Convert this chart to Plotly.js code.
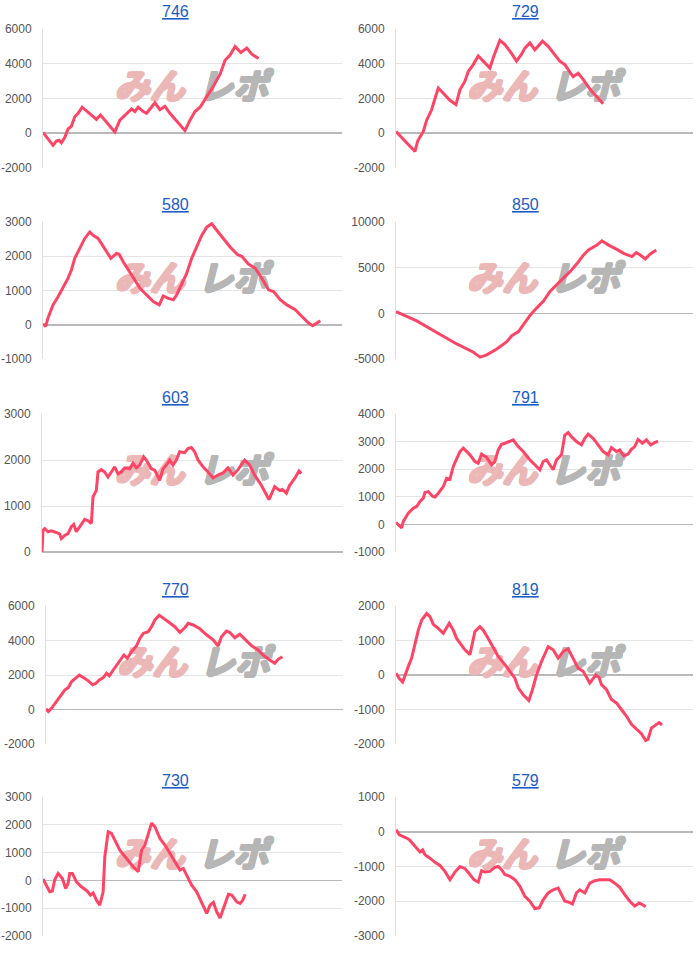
<!DOCTYPE html>
<html><head><meta charset="utf-8">
<script src="https://cdn.plot.ly/plotly-3.0.1.min.js"></script>
<style>html,body{margin:0;padding:0;background:#fff}#chart{width:700px;height:960px}</style>
</head><body><div id="chart"></div>
<script>
// Machine numbers (panel titles)
const titles = ['746','729','580','850','603','791','770','819','730','579'];

// Games played (x) and cumulative coin difference (y) per machine
const g746 = [0,150,300,400,480,550,650,750,850,950,1050,1170,1350,1600,1720,1900,2150,2300,2450,2650,2750,2850,3000,3100,3350,3500,3650,3800,4000,4250,4400,4550,4700,4900,5100,5300,5450,5600,5750,5920,6100,6250,6450];
const v746 = [50,-300,-700,-450,-400,-550,-250,250,400,950,1150,1500,1200,800,1050,650,80,750,1050,1400,1250,1500,1250,1150,1750,1350,1550,1150,700,150,750,1250,1500,2100,2700,3400,4200,4500,5000,4650,4900,4550,4300];

const g729 = [0,100,270,420,570,650,720,820,920,1070,1170,1270,1420,1620,1800,1920,2070,2170,2320,2470,2620,2820,2920,3020,3120,3270,3470,3620,3770,3870,4020,4170,4270,4400,4570,4770,4920,5070,5220,5320,5470,5620,5820,6020,6220];
const v729 = [100,-100,-400,-700,-1050,-450,-200,100,750,1350,2000,2600,2300,1900,1650,2500,3000,3550,3950,4450,4150,3750,4350,4900,5350,5100,4600,4150,4550,4900,5200,4800,5000,5300,5000,4550,4150,3950,3550,3250,3450,3100,2550,2100,1700];

const g580 = [0,80,150,300,450,600,750,850,950,1100,1250,1400,1500,1650,1800,1900,2030,2200,2280,2400,2550,2700,2900,3100,3300,3480,3600,3750,3900,4000,4150,4300,4450,4600,4750,4900,5050,5200,5400,5600,5820,5950,6150,6350,6550,6750,6900,7100,7300,7550,7750,7950,8070,8200,8300];
const v580 = [30,-50,200,580,820,1070,1360,1600,1940,2230,2520,2710,2610,2520,2290,2130,1940,2080,2060,1840,1600,1360,1070,870,680,580,840,770,730,870,1210,1500,1940,2270,2610,2850,2950,2760,2520,2270,2050,2000,1770,1650,1360,1020,970,730,580,440,240,50,-30,50,120];

const g850 = [0,620,1220,1820,2320,2520,2720,3020,3320,3470,3670,3820,4020,4220,4420,4620,4820,5020,5220,5420,5620,5770,6020,6170,6370,6620,6820,7070,7200,7320,7470,7620,7800];
const v850 = [200,-830,-2100,-3350,-4260,-4800,-4550,-3900,-3100,-2450,-2000,-1200,-200,600,1340,2420,3140,3860,4590,5420,6390,6930,7470,7940,7470,7000,6570,6210,6640,6390,5960,6500,6930];

const g603 = [0,30,80,180,280,380,480,530,580,680,780,880,950,1030,1130,1280,1380,1480,1530,1630,1680,1780,1880,1980,2080,2180,2280,2380,2480,2630,2730,2830,2930,3050,3130,3280,3380,3530,3630,3730,3830,3930,4030,4130,4280,4380,4480,4580,4680,4830,4980,5130,5280,5430,5580,5730,5880,6080,6230,6380,6580,6730,6810,6980,7130,7210,7330,7430,7580,7710,7780];
const v603 = [0,470,510,440,460,440,410,390,290,360,400,550,600,440,550,710,680,620,1200,1340,1740,1790,1740,1630,1740,1850,1700,1740,1830,1810,1930,1830,1890,2070,2000,1810,1780,1560,1810,1890,2000,1890,2000,2180,2160,2250,2270,2180,2000,1850,1740,1610,1670,1720,1830,1670,1790,2000,1890,1670,1450,1230,1140,1420,1340,1360,1280,1450,1600,1760,1710];

const g791 = [0,120,170,220,370,520,620,720,820,870,970,1100,1170,1270,1420,1520,1620,1720,1820,1920,2020,2120,2220,2370,2470,2570,2720,2870,2970,3070,3170,3270,3370,3520,3670,3820,4020,4170,4320,4420,4520,4620,4720,4820,4970,5070,5170,5270,5420,5570,5670,5770,5920,6070,6220,6370,6470,6620,6720,6840,6970,7070,7170,7270,7400,7520,7650,7770,7870];
const v791 = [70,-70,-130,110,410,590,650,830,950,1160,1190,1010,990,1130,1370,1670,1640,2100,2400,2640,2760,2640,2520,2280,2220,2550,2430,2160,2280,2700,2900,2940,3000,3060,2820,2640,2340,2160,1980,2280,2340,2160,1980,2340,2520,3240,3330,3180,3000,2880,3120,3270,3120,2880,2640,2520,2780,2640,2700,2480,2550,2720,2820,3080,2940,3060,2880,2960,3020];

const g770 = [0,70,170,270,420,570,670,770,870,1000,1120,1270,1400,1500,1600,1720,1820,1900,2020,2170,2340,2440,2570,2720,2820,2920,3070,3170,3270,3400,3520,3670,3870,4020,4170,4270,4420,4620,4820,5020,5170,5270,5420,5520,5670,5820,5970,6170,6370,6520,6720,6870,6970,7100];
const v770 = [40,-120,80,370,750,1140,1270,1620,1770,2000,1850,1660,1430,1520,1710,1850,2100,1950,2290,2680,3160,2970,3350,3700,4120,4410,4510,4800,5190,5470,5320,5090,4800,4470,4740,5000,4900,4680,4330,4040,3680,4220,4550,4470,4160,4360,4080,3700,3450,3160,2870,2680,2910,3060];

const g819 = [0,100,200,270,370,470,570,670,770,920,1020,1120,1270,1420,1600,1720,1820,1970,2070,2220,2370,2520,2620,2770,2920,3070,3270,3420,3570,3670,3820,3990,4100,4220,4370,4570,4720,4870,5020,5170,5320,5470,5620,5820,6000,6100,6170,6320,6470,6620,6770,6920,7070,7220,7370,7500,7570,7670,7800,7900,7990];
const v819 = [50,-100,-200,0,250,490,870,1300,1590,1780,1690,1470,1350,1210,1500,1300,1060,870,730,590,1260,1400,1300,1060,820,540,300,110,-90,-370,-570,-740,-420,0,390,820,730,490,680,760,490,200,110,-230,0,-70,-280,-420,-710,-810,-1000,-1190,-1430,-1570,-1700,-1900,-1860,-1540,-1460,-1380,-1450];

const g730 = [0,100,200,280,350,450,580,680,750,800,880,1000,1150,1320,1420,1500,1600,1700,1800,1850,1950,2050,2150,2300,2500,2700,2850,2950,3050,3150,3250,3350,3500,3650,3800,3950,4100,4200,4300,4450,4600,4750,4900,5000,5100,5200,5300,5400,5550,5650,5800,5900,5980,6050];
const v730 = [50,-170,-410,-380,10,250,70,-290,-110,250,250,-50,-230,-380,-530,-450,-710,-890,-410,850,1750,1690,1450,1090,790,490,310,1090,1270,1690,2060,1930,1510,1270,970,670,370,430,190,-170,-410,-770,-1190,-890,-790,-1130,-1350,-1010,-500,-530,-770,-830,-710,-500];

const g579 = [0,100,270,400,570,720,800,870,1020,1170,1320,1470,1620,1770,1920,2070,2220,2340,2470,2570,2670,2820,2970,3070,3170,3270,3420,3570,3720,3870,4020,4170,4300,4420,4570,4720,4870,4970,5070,5170,5300,5420,5520,5670,5820,5970,6120,6270,6420,6570,6720,6870,7020,7170,7300,7370,7500];
const v579 = [60,-90,-160,-230,-420,-580,-520,-660,-760,-880,-970,-1140,-1380,-1160,-1000,-1060,-1230,-1380,-1450,-1120,-1160,-1140,-1020,-1000,-1090,-1230,-1280,-1380,-1570,-1860,-2000,-2210,-2190,-1960,-1760,-1670,-1620,-1810,-2000,-2020,-2080,-1760,-1670,-1760,-1480,-1410,-1380,-1380,-1380,-1480,-1600,-1810,-2000,-2140,-2050,-2080,-2160];

// Y-axis ranges and tick steps
const yMin  = [-2000,-2000,-1000,-5000,0,-1000,-2000,-2000,-2000,-3000];
const yMax  = [6000,6000,3000,10000,3000,4000,6000,2000,3000,1000];
const yStep = [2000,2000,1000,5000,1000,1000,2000,1000,1000,1000];

const gamesList = [g746,g729,g580,g850,g603,g791,g770,g819,g730,g579];
const valuesList = [v746,v729,v580,v850,v603,v791,v770,v819,v730,v579];

// ---- layout geometry (pixels) ----
const W = 700, H = 960;
const xMaxes = [8950,8920,8950,8900,9030,8920,8920,8920,8950,8920];
const leftPx  = [43,396,43,396,42,396,46,396,43,396];
const rightPx = [342,693,342,693,343,693,343,693,342,693];
const topPx = [29,222,414,606,797];
const botPx = [168,359,552,744,936];

const lineColor = '#ff4566';
const pinkWM = '#ebb7b7';
const grayWM = '#b6b6b6';
function fat(c) {
  return `1px 0 0 ${c}, -1px 0 0 ${c}, 0 1px 0 ${c}, 0 -1px 0 ${c}, 1px 1px 0 ${c}, -1px -1px 0 ${c}, 1px -1px 0 ${c}, -1px 1px 0 ${c}`;
}

const traces = [];
const layout = {
  width: W, height: H,
  margin: {l:0,r:0,t:0,b:0},
  paper_bgcolor: '#fff', plot_bgcolor: '#fff',
  showlegend: false, hovermode: false,
  font: {family: 'Liberation Sans, Arial, sans-serif', size: 12, color: '#444'},
  annotations: []
};

for (let i = 0; i < 10; i++) {
  const k = i + 1;
  const sfx = k === 1 ? '' : String(k);
  const row = Math.floor(i / 2);
  const col = i % 2;
  const xa = 'x' + sfx, ya = 'y' + sfx;

  // watermark (drawn below the line)
  const wy = yMin[i] + 0.56 * (yMax[i] - yMin[i]);
  traces.push({
    x: [0.357 * xMaxes[i]], y: [wy], xaxis: xa, yaxis: ya,
    mode: 'text', text: ['<b><i>みん</i></b>'], cliponaxis: false,
    textfont: {family: 'Noto Sans CJK JP', size: 35, weight: 900, color: pinkWM, shadow: fat(pinkWM)},
    hoverinfo: 'skip'
  });
  traces.push({
    x: [0.636 * xMaxes[i]], y: [wy], xaxis: xa, yaxis: ya,
    mode: 'text', text: ['<b><i>レポ</i></b>'], cliponaxis: false,
    textfont: {family: 'Noto Sans CJK JP', size: 35, weight: 900, color: grayWM, shadow: fat(grayWM)},
    hoverinfo: 'skip'
  });
  traces.push({
    x: gamesList[i], y: valuesList[i], xaxis: xa, yaxis: ya,
    mode: 'lines', line: {color: lineColor, width: 3},
    hoverinfo: 'skip'
  });

  const tv = [];
  for (let t = yMin[i]; t <= yMax[i]; t += yStep[i]) tv.push(t);

  layout['xaxis' + sfx] = {
    domain: [leftPx[i] / W, rightPx[i] / W],
    range: [0, xMaxes[i]],
    anchor: ya,
    showgrid: false, zeroline: false, showline: false,
    showticklabels: false, ticks: '', fixedrange: true
  };
  layout['yaxis' + sfx] = {
    domain: [1 - botPx[row] / H, 1 - topPx[row] / H],
    range: [yMin[i], yMax[i]],
    tickmode: 'array', tickvals: tv, ticktext: tv.map(String),
    anchor: xa,
    showgrid: true, gridcolor: '#e4e4e4', gridwidth: 1,
    zeroline: true, zerolinecolor: '#b9b9b9', zerolinewidth: 1.6,
    showline: true, linecolor: '#e0e0e0', linewidth: 1,
    ticks: '', ticklabelstandoff: 8,
    tickfont: {family: 'Liberation Sans, Arial, sans-serif', size: 12, color: '#555'},
    fixedrange: true
  };

  layout.annotations.push({
    xref: 'paper', yref: 'paper',
    x: col === 0 ? 0.25 : 0.75,
    y: 1 - (topPx[row] - 17) / H,
    xanchor: 'center', yanchor: 'middle',
    text: '<u>' + titles[i] + '</u>',
    showarrow: false,
    font: {family: 'Liberation Sans, Arial, sans-serif', size: 16, color: '#1a5cc8'}
  });
}

Plotly.newPlot('chart', traces, layout, {staticPlot: true, displayModeBar: false});
</script>
</body></html>
